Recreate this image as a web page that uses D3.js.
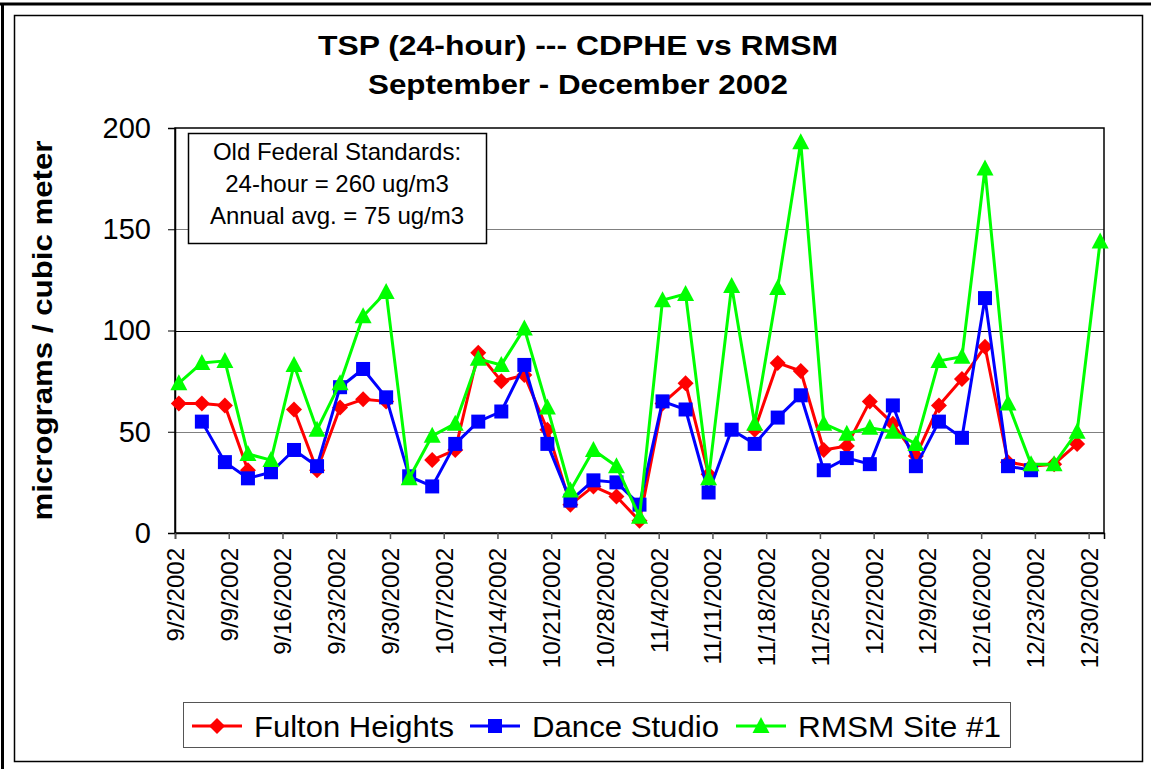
<!DOCTYPE html>
<html>
<head>
<meta charset="utf-8">
<script src="https://cdn.jsdelivr.net/npm/d3@7.9.0/dist/d3.min.js"></script>
<style>
  body { margin: 0; background: #fff; }
  svg { display: block; font-family: "Liberation Sans", Arial, sans-serif; }
</style>
</head>
<body>
<svg width="1151" height="769"></svg>
<script>
// sample dates (every 3rd day)
const dates = [
  "2002-09-02", "2002-09-05", "2002-09-08", "2002-09-11", "2002-09-14", "2002-09-17",
  "2002-09-20", "2002-09-23", "2002-09-26", "2002-09-29", "2002-10-02", "2002-10-05",
  "2002-10-08", "2002-10-11", "2002-10-14", "2002-10-17", "2002-10-20", "2002-10-23",
  "2002-10-26", "2002-10-29", "2002-11-01", "2002-11-04", "2002-11-07", "2002-11-10",
  "2002-11-13", "2002-11-16", "2002-11-19", "2002-11-22", "2002-11-25", "2002-11-28",
  "2002-12-01", "2002-12-04", "2002-12-07", "2002-12-10", "2002-12-13", "2002-12-16",
  "2002-12-19", "2002-12-22", "2002-12-25", "2002-12-28", "2002-12-31"
];

const fulton = [64, 64, 63, 31, null, 61, 31, 62, 66, 65, null, 36, 41, 89, 75, 78, 51, 14, 23, 18, 6,
  64, 74, 29, null, 51, 84, 80, 41, 43, 65, 54, 38, 63, 76, 92, 35, 33, 34, 44, null];

const dance = [null, 55, 35, 27, 30, 41, 33, 72, 81, 67, 28, 23, 44, 55, 60, 83, 44, 16, 26, 25, 14,
  65, 61, 20, 51, 44, 57, 68, 31, 37, 34, 63, 33, 55, 47, 116, 33, 31, null, null, null];

const rmsm = [74, 84, 85, 39, 36, 83, 51, 74, 107, 119, 27, 48, 54, 86, 83, 101, 62, 21, 41, 33, 8,
  115, 118, 27, 122, 54, 121, 193, 54, 49, 52, 50, 44, 85, 87, 180, 64, 34, 34, 50, 144];

const yTicks = [0, 50, 100, 150, 200];
const titleLines = ["TSP (24-hour) --- CDPHE vs RMSM", "September - December 2002"];
const noteLines = ["Old Federal Standards:", "24-hour = 260 ug/m3", "Annual avg. = 75 ug/m3"];

const series = [
  { name: "Fulton Heights", values: fulton, color: "#ff0000", shape: "diamond" },
  { name: "Dance Studio", values: dance, color: "#0000ff", shape: "square" },
  { name: "RMSM Site #1", values: rmsm, color: "#00ff00", shape: "triangle" }
];

const parse = d3.timeParse("%Y-%m-%d");
const days = dates.map(parse);

const plot = { left: 175, right: 1104, top: 128, bottom: 533 };

const svg = d3.select("svg");

// frames
svg.append("line").attr("x1", 0).attr("x2", 1151).attr("y1", 4).attr("y2", 4)
  .attr("stroke", "#000").attr("stroke-width", 3);
svg.append("line").attr("x1", 2.5).attr("x2", 2.5).attr("y1", 3).attr("y2", 769)
  .attr("stroke", "#000").attr("stroke-width", 3);
svg.append("rect").attr("x", 14.5).attr("y", 15.5).attr("width", 1128).attr("height", 746)
  .attr("fill", "#fff").attr("stroke", "#000").attr("stroke-width", 1.5);

const x = d3.scaleTime()
  .domain([new Date(2002, 8, 2), new Date(2003, 0, 1)])
  .range([plot.left, plot.right]);

const y = d3.scaleLinear().domain([0, 200]).range([plot.bottom, plot.top]);

// title
const titleWidths = [520, 420];
svg.append("g").selectAll("text").data(titleLines).join("text")
  .attr("x", 578)
  .attr("y", (d, i) => 55 + i * 39)
  .attr("text-anchor", "middle")
  .attr("font-size", "28px")
  .attr("font-weight", "bold")
  .attr("textLength", (d, i) => titleWidths[i])
  .attr("lengthAdjust", "spacingAndGlyphs")
  .text(d => d);

// gridlines
svg.append("g").selectAll("line").data(yTicks.filter(d => d > 0 && d < 200)).join("line")
  .attr("x1", plot.left).attr("x2", plot.right)
  .attr("y1", d => Math.round(y(d)) + 0.5).attr("y2", d => Math.round(y(d)) + 0.5)
  .attr("stroke", d => d === 100 ? "#000" : "#808080")
  .attr("stroke-width", 1);

// plot border
svg.append("rect")
  .attr("x", plot.left).attr("y", plot.top)
  .attr("width", plot.right - plot.left).attr("height", plot.bottom - plot.top)
  .attr("fill", "none").attr("stroke", "#000").attr("stroke-width", 1.5);

// y axis
const yAxis = svg.append("g")
  .attr("transform", `translate(${plot.left},0)`)
  .call(d3.axisLeft(y).tickValues(yTicks).tickSize(7).tickPadding(17));
yAxis.select(".domain").attr("stroke-width", 1.5);
yAxis.selectAll("text").attr("font-size", "29px").attr("font-family", "Liberation Sans, Arial, sans-serif")
  .attr("fill", "#000");

svg.append("text")
  .attr("transform", `translate(52,${(plot.top + plot.bottom) / 2}) rotate(-90)`)
  .attr("text-anchor", "middle")
  .attr("font-size", "28px")
  .attr("font-weight", "bold")
  .attr("textLength", 380)
  .attr("lengthAdjust", "spacingAndGlyphs")
  .text("micrograms / cubic meter");

// x axis
const weekTicks = d3.timeMonday.range(new Date(2002, 8, 2), new Date(2003, 0, 1));
const xAxis = svg.append("g")
  .attr("transform", `translate(0,${plot.bottom})`)
  .call(d3.axisBottom(x).tickValues(weekTicks).tickFormat(d3.timeFormat("%-m/%-d/%Y")).tickSize(6));
xAxis.select(".domain").attr("stroke-width", 1.5);
xAxis.selectAll(".tick line").attr("stroke", "#555").attr("stroke-width", 1.5);
xAxis.selectAll("text")
  .attr("font-size", "24px")
  .attr("font-family", "Liberation Sans, Arial, sans-serif")
  .attr("fill", "#000")
  .attr("text-anchor", "end")
  .attr("dy", "0.35em")
  .attr("transform", "rotate(-90)")
  .attr("x", -15)
  .attr("y", 0);

// markers
function marker(sel, shape, color) {
  if (shape === "diamond") {
    sel.append("path").attr("d", "M0,-8L8,0L0,8L-8,0Z").attr("fill", color);
  } else if (shape === "square") {
    sel.append("rect").attr("x", -7).attr("y", -7).attr("width", 14).attr("height", 14).attr("fill", color);
  } else {
    sel.append("path").attr("d", "M0,-9L8.5,7L-8.5,7Z").attr("fill", color);
  }
}

const px = i => x(d3.timeHour.offset(days[i], 12));

const line = d3.line()
  .defined(d => d.v != null)
  .x(d => px(d.i))
  .y(d => y(d.v));

series.forEach(s => {
  const pts = s.values.map((v, i) => ({ v, i }));
  const g = svg.append("g");
  g.append("path")
    .datum(pts)
    .attr("fill", "none")
    .attr("stroke", s.color)
    .attr("stroke-width", 3)
    .attr("stroke-linejoin", "round")
    .attr("d", line);
  g.selectAll("g.pt").data(pts.filter(d => d.v != null)).join("g")
    .attr("class", "pt")
    .attr("transform", d => `translate(${px(d.i)},${y(d.v)})`)
    .each(function () { marker(d3.select(this), s.shape, s.color); });
});

// standards note
const note = svg.append("g");
note.append("rect")
  .attr("x", 188.5).attr("y", 133.5).attr("width", 298).attr("height", 110)
  .attr("fill", "#fff").attr("stroke", "#000").attr("stroke-width", 1.5);
note.selectAll("text").data(noteLines).join("text")
  .attr("x", 337)
  .attr("y", (d, i) => 160 + i * 32)
  .attr("text-anchor", "middle")
  .attr("font-size", "24px")
  .text(d => d);

// legend
const legend = svg.append("g");
legend.append("rect")
  .attr("x", 183.5).attr("y", 702.5).attr("width", 827).attr("height", 45)
  .attr("fill", "#fff").attr("stroke", "#555").attr("stroke-width", 1);

const legendX = [192, 470, 736];
const legendTextW = [200, 187, 203];
series.forEach((s, i) => {
  const g = legend.append("g").attr("transform", `translate(${legendX[i]},726)`);
  g.append("line").attr("x1", 0).attr("x2", 50).attr("stroke", s.color).attr("stroke-width", 3);
  const m = g.append("g").attr("transform", "translate(25,0)");
  marker(m, s.shape, s.color);
  g.append("text")
    .attr("x", 62).attr("y", 11)
    .attr("font-size", "30px")
    .attr("textLength", legendTextW[i])
    .attr("lengthAdjust", "spacingAndGlyphs")
    .text(s.name);
});
</script>
</body>
</html>
